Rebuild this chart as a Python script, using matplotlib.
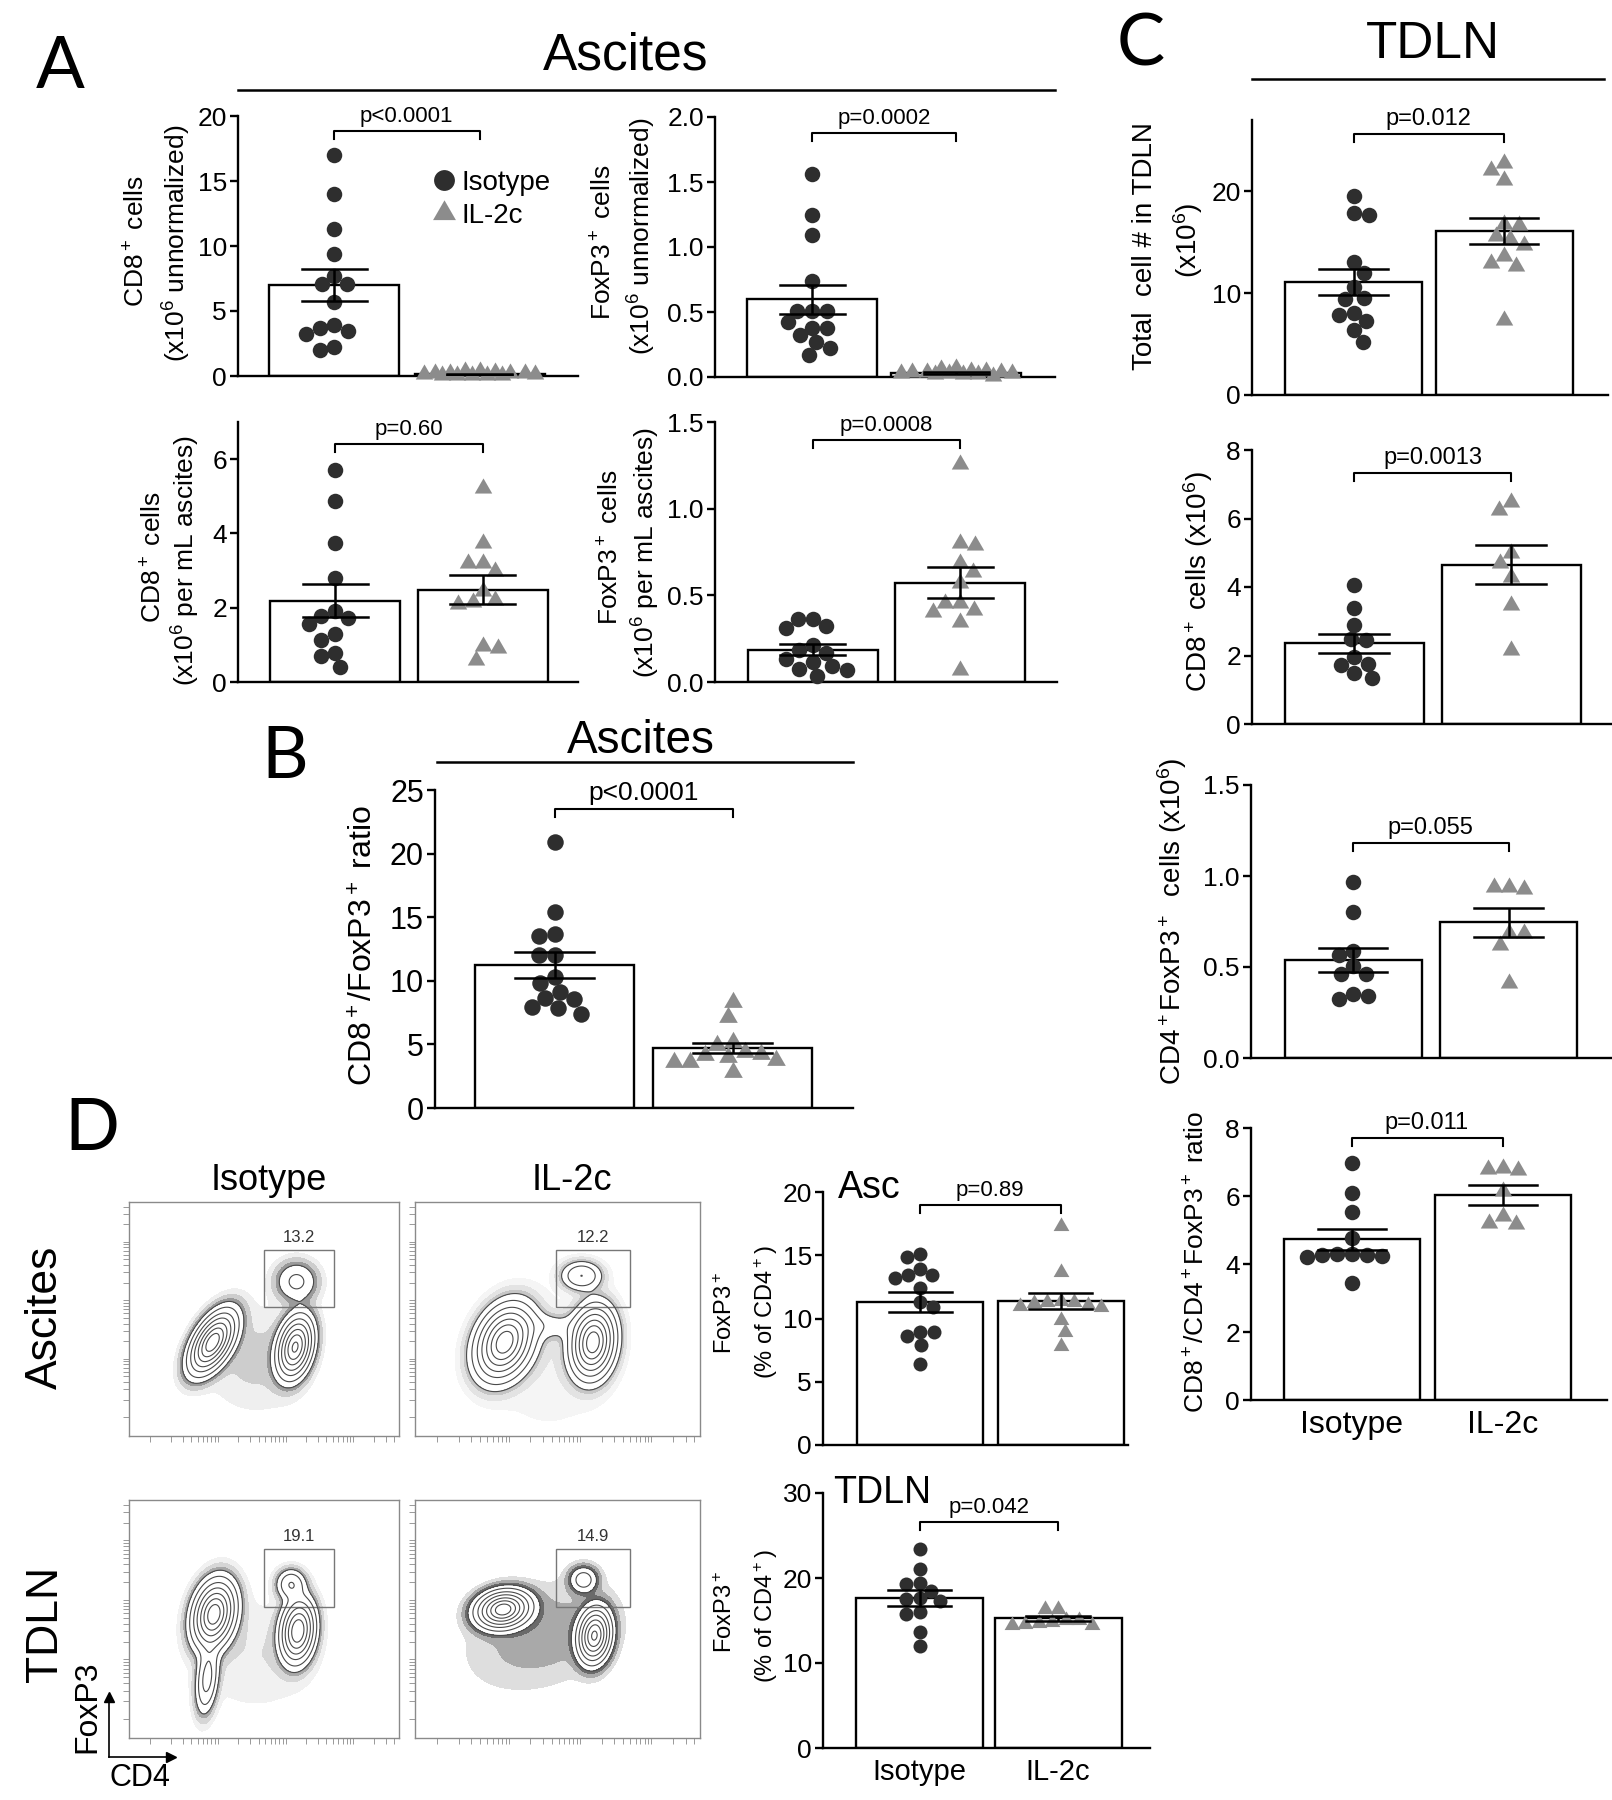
import numpy as np
import matplotlib
matplotlib.use('Agg')
import matplotlib.pyplot as plt
from matplotlib.lines import Line2D
from matplotlib.patches import Rectangle

plt.rcParams['font.family'] = ['Liberation Sans', 'DejaVu Sans']
plt.rcParams['mathtext.fontset'] = 'custom'
plt.rcParams['mathtext.rm'] = 'Liberation Sans'
plt.rcParams['mathtext.it'] = 'Liberation Sans:italic'
plt.rcParams['mathtext.bf'] = 'Liberation Sans:bold'

W, H = 1612, 1800
DOT = '#2e2e2e'
TRI = '#8c8c8c'
TRI_MK = [(0, 0.577), (-0.5, -0.289), (0.5, -0.289)]

groups = ['Isotype', 'IL-2c']

# ---------------- data ----------------
# A: ascites, unnormalized CD8+ (x10^6)
a1_iso = [17.0, 14.0, 11.3, 9.4, 7.7, 7.1, 7.1, 5.7, 3.9, 3.7, 3.45, 3.2, 2.25, 2.0]
a1_il2 = [0.4, 0.35, 0.3, 0.25, 0.25, 0.2, 0.2, 0.15, 0.15, 0.1, 0.1, 0.1, 0.05, 0.05]
a1_mean = [7.0, 0.12]
a1_sem = [1.25, 0.03]
# A: ascites, unnormalized FoxP3+
a2_iso = [1.56, 1.25, 1.09, 0.74, 0.51, 0.51, 0.51, 0.42, 0.38, 0.375, 0.32, 0.27, 0.22, 0.17]
a2_il2 = [0.07, 0.06, 0.05, 0.05, 0.04, 0.04, 0.04, 0.03, 0.03, 0.03, 0.02, 0.02, 0.02, 0.01]
a2_mean = [0.598, 0.03]
a2_sem = [0.112, 0.005]
# A: CD8+ per mL ascites
a3_iso = [5.70, 4.86, 3.75, 2.79, 1.92, 1.79, 1.73, 1.56, 1.28, 1.14, 0.78, 0.69, 0.40]
a3_il2 = [5.23, 3.75, 3.21, 3.21, 2.99, 2.45, 2.22, 2.15, 2.11, 0.96, 0.92, 0.60]
a3_mean = [2.19, 2.49]
a3_sem = [0.45, 0.39]
# A: FoxP3+ per mL ascites
a4_iso = [0.366, 0.366, 0.324, 0.314, 0.212, 0.183, 0.17, 0.135, 0.116, 0.093, 0.077, 0.067, 0.035]
a4_il2 = [1.26, 0.80, 0.79, 0.684, 0.636, 0.573, 0.453, 0.453, 0.414, 0.405, 0.347, 0.067]
a4_mean = [0.187, 0.574]
a4_sem = [0.034, 0.088]
# B: CD8+/FoxP3+ ratio in ascites
b_iso = [20.9, 15.4, 13.7, 13.5, 12.0, 12.0, 10.3, 9.86, 9.13, 8.66, 8.53, 7.95, 7.9, 7.42]
b_il2 = [8.34, 7.16, 5.19, 4.93, 4.41, 4.28, 4.14, 4.01, 3.75, 3.62, 3.62, 2.83]
b_mean = [11.23, 4.72]
b_sem = [1.0, 0.41]
# C: TDLN
c1_iso = [19.5, 17.9, 17.7, 13.1, 12.0, 10.6, 9.57, 9.41, 8.1, 7.87, 7.28, 6.39, 5.25]
c1_il2 = [22.8, 22.1, 21.1, 16.8, 16.7, 15.6, 15.3, 14.7, 13.6, 12.95, 12.7, 7.38]
c1_mean = [11.08, 16.07]
c1_sem = [1.28, 1.27]
c2_iso = [4.06, 3.40, 2.90, 2.48, 2.44, 1.95, 1.75, 1.73, 1.49, 1.34]
c2_il2 = [6.49, 6.25, 4.98, 4.69, 4.30, 3.48, 2.17]
c2_mean = [2.36, 4.65]
c2_sem = [0.28, 0.57]
c3_iso = [0.965, 0.80, 0.59, 0.567, 0.503, 0.46, 0.46, 0.35, 0.342, 0.324]
c3_il2 = [0.94, 0.94, 0.93, 0.686, 0.686, 0.62, 0.41]
c3_mean = [0.539, 0.746]
c3_sem = [0.064, 0.08]
c4_iso = [6.97, 6.10, 5.52, 4.76, 4.30, 4.28, 4.27, 4.26, 4.25, 4.22, 3.43]
c4_il2 = [6.82, 6.79, 6.77, 6.15, 5.40, 5.22, 5.18]
c4_mean = [4.73, 6.04]
c4_sem = [0.31, 0.29]
# D: FoxP3+ (% of CD4+)
d1_iso = [15.1, 14.9, 13.9, 13.4, 13.4, 13.2, 12.4, 11.3, 10.9, 8.95, 8.95, 8.6, 7.9, 6.37]
d1_il2 = [17.3, 13.7, 11.4, 11.3, 11.3, 11.2, 11.1, 11.0, 10.9, 9.9, 8.9, 7.8]
d1_mean = [11.3, 11.4]
d1_sem = [0.8, 0.65]
d2_iso = [23.4, 21.1, 19.45, 19.25, 18.5, 17.6, 17.5, 17.3, 16.0, 15.8, 13.6, 12.0]
d2_il2 = [16.4, 16.3, 15.1, 15.1, 14.8, 14.7, 14.6, 14.5, 14.5]
d2_mean = [17.6, 15.25]
d2_sem = [0.95, 0.25]

p_values = {'a1': 'p<0.0001', 'a2': 'p=0.0002', 'a3': 'p=0.60', 'a4': 'p=0.0008',
            'b': 'p<0.0001', 'c1': 'p=0.012', 'c2': 'p=0.0013', 'c3': 'p=0.055',
            'c4': 'p=0.011', 'd1': 'p=0.89', 'd2': 'p=0.042'}

# flow populations: (x, y, sigma major, sigma minor, angle, weight) in plot fractions
flow_asc_iso = [(0.62, 0.66, 0.045, 0.05, 0, 0.12), (0.31, 0.40, 0.075, 0.035, 65, 1.0),
                (0.615, 0.38, 0.07, 0.033, 80, 0.9), (0.47, 0.33, 0.14, 0.12, 90, 0.02)]
flow_asc_il2 = [(0.585, 0.685, 0.04, 0.035, 0, 0.2), (0.315, 0.40, 0.085, 0.05, 75, 1.0),
                (0.625, 0.40, 0.08, 0.04, 85, 1.0), (0.47, 0.47, 0.08, 0.035, 0, 0.06),
                (0.47, 0.3, 0.2, 0.15, 90, 0.012)]
flow_tdln_iso = [(0.60, 0.645, 0.03, 0.036, 0, 0.2), (0.315, 0.52, 0.075, 0.04, 80, 1.0),
                 (0.29, 0.25, 0.08, 0.022, 85, 0.25), (0.625, 0.45, 0.07, 0.033, 85, 0.85),
                 (0.47, 0.35, 0.15, 0.15, 0, 0.015)]
flow_tdln_il2 = [(0.592, 0.665, 0.028, 0.032, 0, 0.15), (0.31, 0.54, 0.05, 0.04, 20, 1.0),
                 (0.63, 0.43, 0.06, 0.03, 85, 0.9), (0.45, 0.43, 0.17, 0.12, 30, 0.025)]
gate_pcts = ['13.2', '12.2', '19.1', '14.9']

fig = plt.figure(figsize=(W / 100, H / 100), dpi=100)
fig.patch.set_facecolor('white')


def px_axes(l, t, r, b):
    return fig.add_axes([l / W, 1 - b / H, (r - l) / W, (b - t) / H])


def fx(x):
    return x / W


def fy(y):
    return 1 - y / H


def swarm(vals, py, unit, diam, half):
    # beeswarm in pixel space, returns x offsets in data units
    vals = np.asarray(vals, float)
    steps = np.arange(0.5, half + 0.01, 0.5)
    left_first = np.concatenate([[0], np.ravel(np.column_stack([-steps, steps]))])
    right_first = np.concatenate([[0], np.ravel(np.column_stack([steps, -steps]))])
    placed = []
    offs = np.zeros(len(vals))
    for k, i in enumerate(np.argsort(-vals, kind='stable')):
        y = vals[i] * py
        cand = left_first if k % 2 else right_first
        best, best_d = 0.0, -1.0
        for c in cand:
            d = min((np.hypot(c - a, y - b) for a, b in placed), default=1e9)
            if d >= diam:
                best = c
                break
            if d > best_d:
                best_d, best = d, c
        placed.append((best, y))
        offs[i] = best / unit
    return offs


def bar_panel(box, bars, ymax, yticks, yticklabels, iso, il2, means, sems, ptext, br_y,
              xlabels=None, tick_fs=19, p_fs=16, xl_fs=21, dot_px=15.5):
    l, t, r, b = box
    c1, c2, w = bars
    unit = c2 - c1
    ax = px_axes(l, t, r, b)
    ax.set_xlim((l - c1) / unit, (r - c1) / unit)
    ax.set_ylim(0, ymax)
    py = (b - t) / ymax
    bw = w / unit
    ax.bar([0, 1], means, width=bw, color='white', edgecolor='black', linewidth=1.7, zorder=1)
    d_pt = dot_px * 72 / 100
    offs = swarm(iso, py, unit, dot_px * 0.95, 0.43 * w)
    ax.scatter(offs, iso, s=d_pt ** 2, marker='o', color=DOT, linewidths=0, zorder=3, clip_on=False)
    offs = swarm(il2, py, unit, dot_px * 0.95, 0.43 * w)
    ax.scatter(1 + offs, il2, s=(d_pt * 1.3) ** 2, marker=TRI_MK, color=TRI, linewidths=0,
               zorder=3, clip_on=False)
    for x, m, e in zip([0, 1], means, sems):
        ax.plot([x, x], [m - e, m + e], color='black', lw=1.8, zorder=4, solid_capstyle='butt')
        for yy in (m - e, m + e):
            ax.plot([x - bw / 4, x + bw / 4], [yy, yy], color='black', lw=1.8, zorder=4)
    dd = 8 / py
    ax.plot([0, 0, 1, 1], [br_y - dd, br_y, br_y, br_y - dd], color='black', lw=1.5,
            clip_on=False, zorder=4)
    ax.text(0.5, br_y + 4 / py, ptext, ha='center', va='bottom', fontsize=p_fs)
    for s in ('top', 'right'):
        ax.spines[s].set_visible(False)
    for s in ('left', 'bottom'):
        ax.spines[s].set_linewidth(1.7)
    ax.set_yticks(yticks)
    ax.set_yticklabels(yticklabels)
    ax.tick_params(axis='y', length=6, width=1.7, labelsize=tick_fs, pad=2)
    if xlabels:
        ax.set_xticks([0, 1])
        ax.set_xticklabels(xlabels, fontsize=xl_fs)
        ax.tick_params(axis='x', length=0, pad=7)
    else:
        ax.set_xticks([])
    return ax


def ylab(x, y, s, fs):
    fig.text(fx(x), fy(y), s, rotation=90, ha='center', va='center', fontsize=fs)


# ---------------- panel A ----------------
fig.text(fx(60), fy(88), 'A', fontsize=52, family='Lato', ha='center', va='baseline')
fig.text(fx(626), fy(70), 'Ascites', fontsize=37, ha='center', va='baseline')
fig.add_artist(Line2D([fx(238), fx(1055)], [fy(90), fy(90)], color='black', lw=1.8))

ax = bar_panel((238, 116, 578, 376), (334, 479.5, 130), 20, [0, 5, 10, 15, 20],
               ['0', '5', '10', '15', '20'], a1_iso, a1_il2, a1_mean, a1_sem, p_values['a1'], 18.85)
ylab(137, 241, 'CD8$^+$ cells', 19)
ylab(177, 243, '(x10$^6$ unnormalized)', 19)
handles = [Line2D([], [], ls='', marker='o', ms=15, color=DOT, mew=0),
           Line2D([], [], ls='', marker=TRI_MK, ms=19, color=TRI, mew=0)]
fig.legend(handles, groups, loc='upper left', bbox_to_anchor=(fx(432), fy(170)), frameon=False,
           fontsize=20, handletextpad=0.15, handlelength=0.9, borderpad=0, borderaxespad=0,
           labelspacing=0.25)

bar_panel((715, 117, 1055, 377), (812, 956, 130), 2.0, [0, 0.5, 1.0, 1.5, 2.0],
          ['0.0', '0.5', '1.0', '1.5', '2.0'], a2_iso, a2_il2, a2_mean, a2_sem, p_values['a2'], 1.876)
ylab(604, 242, 'FoxP3$^+$ cells', 19)
ylab(642, 236, '(x10$^6$ unnormalized)', 19)

bar_panel((238, 422, 578, 682), (335, 482.5, 130), 7, [0, 2, 4, 6], ['0', '2', '4', '6'],
          a3_iso, a3_il2, a3_mean, a3_sem, p_values['a3'], 6.41)
ylab(154, 557, 'CD8$^+$ cells', 19)
ylab(186, 561, '(x10$^6$ per mL ascites)', 19)

bar_panel((715, 422, 1057, 682), (812.5, 960, 130), 1.5, [0, 0.5, 1.0, 1.5],
          ['0.0', '0.5', '1.0', '1.5'], a4_iso, a4_il2, a4_mean, a4_sem, p_values['a4'], 1.396)
ylab(611, 547, 'FoxP3$^+$ cells', 19)
ylab(646, 553, '(x10$^6$ per mL ascites)', 19)

# ---------------- panel B ----------------
fig.text(fx(285), fy(778), 'B', fontsize=52, family='Lato', ha='center', va='baseline')
fig.text(fx(641), fy(753), 'Ascites', fontsize=33, ha='center', va='baseline')
fig.add_artist(Line2D([fx(437), fx(853)], [fy(762), fy(762)], color='black', lw=1.8))
bar_panel((435, 790, 853, 1108), (554.5, 732.5, 159), 25, [0, 5, 10, 15, 20, 25],
          ['0', '5', '10', '15', '20', '25'], b_iso, b_il2, b_mean, b_sem, p_values['b'], 23.5,
          tick_fs=22, p_fs=19, dot_px=16.5)
ylab(365, 946, 'CD8$^+$/FoxP3$^+$ ratio', 23)

# ---------------- panel C ----------------
fig.text(fx(1141), fy(65), 'C', fontsize=52, family='Lato', ha='center', va='baseline')
fig.text(fx(1433), fy(58), 'TDLN', fontsize=37, ha='center', va='baseline')
fig.add_artist(Line2D([fx(1252), fx(1604)], [fy(79), fy(79)], color='black', lw=1.8))

bar_panel((1252, 120, 1608, 395), (1353.5, 1504, 137), 27, [0, 10, 20], ['0', '10', '20'],
          c1_iso, c1_il2, c1_mean, c1_sem, p_values['c1'], 25.6, p_fs=17)
ylab(1145, 246, 'Total  cell # in TDLN', 20)
ylab(1188, 240, '(x10$^6$)', 20)

bar_panel((1252, 450, 1611, 724), (1354, 1511, 139), 8, [0, 2, 4, 6, 8], ['0', '2', '4', '6', '8'],
          c2_iso, c2_il2, c2_mean, c2_sem, p_values['c2'], 7.33, p_fs=17)
ylab(1198, 582, 'CD8$^+$ cells (x10$^6$)', 20)

bar_panel((1251, 785, 1611, 1058), (1353, 1508.5, 137), 1.5, [0, 0.5, 1.0, 1.5],
          ['0.0', '0.5', '1.0', '1.5'], c3_iso, c3_il2, c3_mean, c3_sem, p_values['c3'], 1.18,
          p_fs=17)
ylab(1172, 921, 'CD4$^+$FoxP3$^+$  cells (x10$^6$)', 20)

bar_panel((1251, 1128, 1607, 1400), (1351.5, 1502.5, 136), 8, [0, 2, 4, 6, 8],
          ['0', '2', '4', '6', '8'], c4_iso, c4_il2, c4_mean, c4_sem, p_values['c4'], 7.7,
          xlabels=groups, p_fs=17, xl_fs=23)
ylab(1197, 1262, 'CD8$^+$/CD4$^+$FoxP3$^+$ ratio', 19)

# ---------------- panel D: flow plots ----------------
fig.text(fx(92), fy(1150), 'D', fontsize=52, family='Lato', ha='center', va='baseline')
fig.text(fx(269), fy(1190), 'Isotype', fontsize=26, ha='center', va='baseline')
fig.text(fx(572), fy(1190), 'IL-2c', fontsize=26, ha='center', va='baseline')
ylab(45, 1317, 'Ascites', 32)
ylab(46, 1624, 'TDLN', 32)

flow_boxes = [(128.6, 1202, 399.4, 1436), (414.6, 1202, 700, 1436),
              (128.6, 1500, 399.4, 1738), (414.6, 1500, 700, 1738)]
flow_sets = [flow_asc_iso, flow_asc_il2, flow_tdln_iso, flow_tdln_il2]
gates = [(0.50, 0.55, 0.76, 0.795), (0.495, 0.55, 0.755, 0.795),
         (0.50, 0.55, 0.76, 0.795), (0.495, 0.55, 0.755, 0.795)]
haze = [['#efefef', '#cdcdcd', '#9a9a9a'], ['#f5f5f5', '#e3e3e3', '#c6c6c6'],
        ['#f1f1f1', '#d6d6d6', '#a8a8a8'], ['#dedede', '#a9a9a9', '#6a6a6a']]

gx = np.linspace(0, 1, 320)
GX, GY = np.meshgrid(gx, gx)
decades = [0.08, 0.33, 0.58, 0.83]
minor = [d + 0.25 * np.log10(k) for d in decades for k in range(1, 10) if d + 0.25 * np.log10(k) < 1]

for box, pops, gate, pct, hz in zip(flow_boxes, flow_sets, gates, gate_pcts, haze):
    ax = px_axes(*box)
    Z = np.zeros_like(GX)
    for cx, cy, sa, sb, ang, wt in pops:
        th = np.deg2rad(ang)
        u = (GX - cx) * np.cos(th) + (GY - cy) * np.sin(th)
        v = -(GX - cx) * np.sin(th) + (GY - cy) * np.cos(th)
        Z += wt * np.exp(-0.5 * ((u / sa) ** 2 + (v / sb) ** 2))
    Z /= Z.max()
    ax.contourf(GX, GY, Z, levels=[0.006, 0.015, 0.03, 0.045], colors=hz)
    ax.contour(GX, GY, Z, levels=[0.045, 0.1, 0.2, 0.33, 0.5, 0.68, 0.86],
               colors='#4a4a4a', linewidths=0.8)
    x0, y0, x1, y1 = gate
    ax.add_patch(Rectangle((x0, y0), x1 - x0, y1 - y0, fill=False, edgecolor='#777777', lw=1.0))
    ax.text((x0 + x1) / 2, y1 + 0.02, pct, ha='center', va='bottom', fontsize=12, color='#333333')
    ax.set_xlim(0, 1)
    ax.set_ylim(0, 1)
    ax.set_xticks(minor)
    ax.set_yticks(minor)
    ax.set_xticklabels([])
    ax.set_yticklabels([])
    ax.tick_params(length=4, width=0.7, color='#999999', direction='out')
    for s in ax.spines.values():
        s.set_color('#8a8a8a')
        s.set_linewidth(1.0)

# axis key arrows
fig.add_artist(Line2D([fx(109), fx(109)], [fy(1757), fy(1700)], color='black', lw=1.2))
fig.add_artist(Line2D([fx(109), fx(168)], [fy(1757), fy(1757)], color='black', lw=1.2))
fig.add_artist(Line2D([fx(109)], [fy(1697)], marker='^', ms=7, color='black', ls=''))
fig.add_artist(Line2D([fx(171)], [fy(1757)], marker='>', ms=7, color='black', ls=''))
ylab(87, 1707, 'FoxP3', 23)
fig.text(fx(140), fy(1778), 'CD4', fontsize=22, ha='center', va='center')

# ---------------- panel D: bar charts ----------------
bar_panel((823, 1192, 1128, 1445), (920, 1060.5, 126), 20, [0, 5, 10, 15, 20],
          ['0', '5', '10', '15', '20'], d1_iso, d1_il2, d1_mean, d1_sem, p_values['d1'], 19.0,
          dot_px=14)
fig.text(fx(838), fy(1198), 'Asc', fontsize=27, ha='left', va='baseline')
ylab(726, 1313, 'FoxP3$^+$', 17)
ylab(766, 1312, '(% of CD4$^+$)', 17)

bar_panel((823, 1493, 1150, 1748), (919.5, 1058, 127), 30, [0, 10, 20, 30],
          ['0', '10', '20', '30'], d2_iso, d2_il2, d2_mean, d2_sem, p_values['d2'], 26.6,
          xlabels=groups, dot_px=14, xl_fs=21)
fig.text(fx(833), fy(1503), 'TDLN', fontsize=27, ha='left', va='baseline')
ylab(726, 1612, 'FoxP3$^+$', 17)
ylab(766, 1616, '(% of CD4$^+$)', 17)

fig.savefig('out.png', dpi=100)
